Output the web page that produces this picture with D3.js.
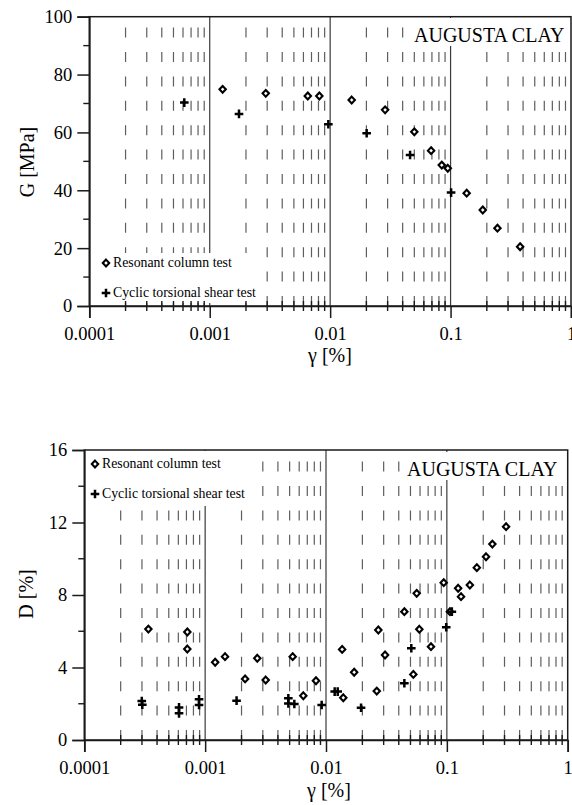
<!DOCTYPE html>
<html>
<head>
<meta charset="utf-8">
<script src="https://cdnjs.cloudflare.com/ajax/libs/d3/7.8.5/d3.min.js"></script>
<style>
  body { margin: 0; background: #fff; }
  svg { display: block; }
</style>
</head>
<body>
<div id="chart"></div>
<script>
"use strict"

// ---- data ----
var xTicks = [0.0001, 0.001, 0.01, 0.1, 1];
var xTickLabels = ["0.0001", "0.001", "0.01", "0.1", "1"];

// shear modulus panel
var gTicks = [0, 20, 40, 60, 80, 100];
var gMinor = [10, 30, 50, 70, 90];
var gRcGamma = [0.00128, 0.00292, 0.00652, 0.00813, 0.0151, 0.0286, 0.0500, 0.0689, 0.0845, 0.0948, 0.136, 0.185, 0.245, 0.378];
var gRcValue = [74.9, 73.5, 72.6, 72.6, 71.2, 67.8, 60.2, 53.7, 48.7, 47.6, 39.0, 33.2, 26.9, 20.5];
var gCtGamma = [0.000615, 0.00175, 0.00966, 0.0201, 0.0461, 0.101];
var gCtValue = [70.3, 66.4, 62.8, 59.7, 52.2, 39.2];

// damping panel
var dTicks = [0, 4, 8, 12, 16];
var dMinor = [2, 6, 10, 14];
var dRcGamma = [0.000339, 0.000712, 0.000712, 0.00121, 0.00146, 0.00214, 0.00270, 0.00317, 0.00530, 0.00649,
  0.00826, 0.0136, 0.0139, 0.0171, 0.0263, 0.0271, 0.0308, 0.0445, 0.0528, 0.0563,
  0.0592, 0.0739, 0.0942, 0.106, 0.124, 0.131, 0.155, 0.177, 0.211, 0.238, 0.309];
var dRcValue = [6.12, 5.96, 5.02, 4.29, 4.60, 3.37, 4.51, 3.31, 4.60, 2.44,
  3.27, 5.00, 2.33, 3.74, 2.70, 6.07, 4.69, 7.08, 3.62, 8.09,
  6.11, 5.15, 8.68, 7.08, 8.37, 7.91, 8.55, 9.51, 10.11, 10.81, 11.77];
var dCtGamma = [0.000299, 0.000302, 0.000608, 0.000608, 0.00089, 0.00089, 0.00182, 0.00488, 0.00488, 0.00547,
  0.00921, 0.0118, 0.0125, 0.0195, 0.0445, 0.0508, 0.0988, 0.110];
var dCtValue = [2.15, 1.95, 1.80, 1.47, 2.25, 1.93, 2.17, 2.30, 2.02, 1.99,
  1.93, 2.67, 2.67, 1.78, 3.13, 5.06, 6.22, 7.08];

var legendLabels = ["Resonant column test", "Cyclic torsional shear test"];
var clayName = "AUGUSTA CLAY";

var serif = "'Liberation Serif', 'Times New Roman', serif";

var svg = d3.select("#chart").append("svg")
  .attr("width", 572)
  .attr("height", 805);

var diamond = "M0,-3.4L3.2,0L0,3.4L-3.2,0Z";
var plus = "M-4.3,0H4.3M0,-4.3V4.3";

function drawPanel(cfg){
  var g = svg.append("g");
  var x = d3.scaleLog().domain([0.0001, 1]).range([cfg.left, cfg.right]);
  var y = d3.scaleLinear().domain(cfg.yDomain).range([cfg.bottom, cfg.top]);

  // dashed minor grid (2..9 of every decade)
  var minorX = [];
  for(var i = 0 ; i < 4 ; i++){
    for(var m = 2 ; m <= 9 ; m++){
      minorX.push(m * xTicks[i]);
    }
  }
  g.selectAll(".dash").data(minorX).enter().append("line")
    .attr("x1", function(d){ return x(d); })
    .attr("x2", function(d){ return x(d); })
    .attr("y1", cfg.bottom)
    .attr("y2", cfg.top)
    .attr("stroke", "#5e5e5e")
    .attr("stroke-width", 1.2)
    .attr("stroke-dasharray", "10,14.4");

  // solid decade lines
  g.selectAll(".dec").data([0.001, 0.01, 0.1]).enter().append("line")
    .attr("x1", function(d){ return x(d); })
    .attr("x2", function(d){ return x(d); })
    .attr("y1", cfg.bottom)
    .attr("y2", cfg.top)
    .attr("stroke", "#3a3a3a")
    .attr("stroke-width", 1.2);

  // white boxes behind legend and title
  g.append("rect")
    .attr("x", cfg.legendBox[0]).attr("y", cfg.legendBox[1])
    .attr("width", cfg.legendBox[2]).attr("height", cfg.legendBox[3])
    .attr("fill", "#fff");
  g.append("rect")
    .attr("x", cfg.titleBox[0]).attr("y", cfg.titleBox[1])
    .attr("width", cfg.titleBox[2]).attr("height", cfg.titleBox[3])
    .attr("fill", "#fff");

  // frame
  g.append("rect")
    .attr("x", cfg.left).attr("y", cfg.top)
    .attr("width", cfg.right - cfg.left).attr("height", cfg.bottom - cfg.top)
    .attr("fill", "none")
    .attr("stroke", "#1a1a1a")
    .attr("stroke-width", 1.5);

  // axes
  var xAxis = g.append("g")
    .attr("transform", "translate(0," + cfg.bottom + ")")
    .call(d3.axisBottom(x).tickValues(xTicks).tickSize(12).tickPadding(9)
      .tickFormat(function(d, i){ return xTickLabels[i]; }));
  var yAxis = g.append("g")
    .attr("transform", "translate(" + cfg.left + ",0)")
    .call(d3.axisLeft(y).tickValues(cfg.yTicks).tickSize(12).tickPadding(5));

  [xAxis, yAxis].forEach(function(a){
    a.select(".domain").attr("stroke", "#1a1a1a").attr("stroke-width", 1.7);
    a.selectAll(".tick line").attr("stroke", "#1a1a1a").attr("stroke-width", 1.5);
    a.selectAll("text")
      .style("font-family", serif)
      .style("font-size", "18.5px")
      .attr("fill", "#000");
  });

  // minor ticks
  g.selectAll(".mx").data(minorX).enter().append("line")
    .attr("x1", function(d){ return x(d); })
    .attr("x2", function(d){ return x(d); })
    .attr("y1", cfg.bottom - 5)
    .attr("y2", cfg.bottom + 5)
    .attr("stroke", "#1a1a1a")
    .attr("stroke-width", 1.4);
  g.selectAll(".my").data(cfg.yMinor).enter().append("line")
    .attr("x1", cfg.left - 6)
    .attr("x2", cfg.left)
    .attr("y1", function(d){ return y(d); })
    .attr("y2", function(d){ return y(d); })
    .attr("stroke", "#1a1a1a")
    .attr("stroke-width", 1.4);

  // markers
  var rc = d3.zip(cfg.rcGamma, cfg.rcValue);
  var ct = d3.zip(cfg.ctGamma, cfg.ctValue);
  g.selectAll(".rc").data(rc).enter().append("path")
    .attr("d", diamond)
    .attr("transform", function(d){ return "translate(" + x(d[0]) + "," + y(d[1]) + ")"; })
    .attr("fill", "#fff")
    .attr("stroke", "#000")
    .attr("stroke-width", 2.1);
  g.selectAll(".ct").data(ct).enter().append("path")
    .attr("d", plus)
    .attr("transform", function(d){ return "translate(" + x(d[0]) + "," + y(d[1]) + ")"; })
    .attr("fill", "none")
    .attr("stroke", "#000")
    .attr("stroke-width", 2.5);

  // legend
  var lx = cfg.legendPos[0], ly = cfg.legendPos[1];
  g.append("path").attr("d", diamond)
    .attr("transform", "translate(" + lx + "," + (ly - 4) + ")")
    .attr("fill", "#fff").attr("stroke", "#000").attr("stroke-width", 2.1);
  g.append("path").attr("d", plus)
    .attr("transform", "translate(" + lx + "," + (ly + 26) + ")")
    .attr("fill", "none").attr("stroke", "#000").attr("stroke-width", 2.5);
  g.selectAll(".lt").data(legendLabels).enter().append("text")
    .attr("x", lx + 7)
    .attr("y", function(d, i){ return ly + i * 30; })
    .style("font-family", serif)
    .style("font-size", "13.8px")
    .attr("fill", "#000")
    .text(function(d){ return d; });

  // clay name
  g.append("text")
    .attr("x", cfg.titlePos[0])
    .attr("y", cfg.titlePos[1])
    .style("font-family", serif)
    .style("font-size", "20px")
    .attr("fill", "#000")
    .text(clayName);

  // axis titles
  g.append("text")
    .attr("transform", "translate(" + cfg.yTitlePos[0] + "," + cfg.yTitlePos[1] + ") rotate(-90)")
    .attr("text-anchor", "middle")
    .style("font-family", serif)
    .style("font-size", "20px")
    .attr("fill", "#000")
    .text(cfg.yTitle);
  g.append("text")
    .attr("x", cfg.xTitlePos[0])
    .attr("y", cfg.xTitlePos[1])
    .attr("text-anchor", "middle")
    .style("font-family", serif)
    .style("font-size", "20px")
    .attr("fill", "#000")
    .text("\u03b3 [%]");
}

drawPanel({
  left: 89.3, right: 571, top: 16.7, bottom: 306,
  yDomain: [0, 100], yTicks: gTicks, yMinor: gMinor,
  rcGamma: gRcGamma, rcValue: gRcValue, ctGamma: gCtGamma, ctValue: gCtValue,
  legendBox: [95, 253, 162, 50], legendPos: [106, 267],
  titleBox: [410, 18, 161, 28], titlePos: [414, 42],
  yTitle: "G [MPa]", yTitlePos: [34, 162],
  xTitlePos: [330, 362]
});

drawPanel({
  left: 84.3, right: 567.7, top: 450, bottom: 740,
  yDomain: [0, 16], yTicks: dTicks, yMinor: dMinor,
  rcGamma: dRcGamma, rcValue: dRcValue, ctGamma: dCtGamma, ctValue: dCtValue,
  legendBox: [86, 451, 164, 55], legendPos: [95, 468],
  titleBox: [403, 452, 163, 28], titlePos: [407, 476],
  yTitle: "D [%]", yTitlePos: [33, 594],
  xTitlePos: [329, 797]
});
</script>
</body>
</html>
